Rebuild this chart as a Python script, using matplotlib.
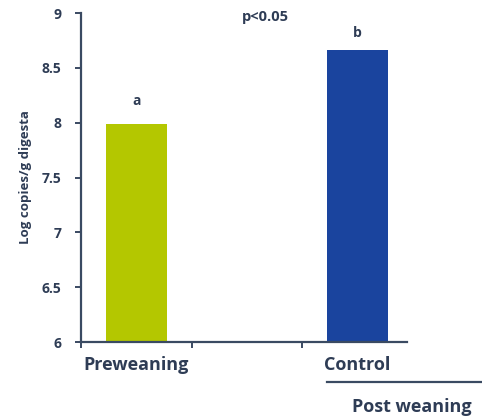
import matplotlib
matplotlib.use("Agg")
import matplotlib.pyplot as plt

plt.rcParams['font.family'] = ['Open Sans', 'DejaVu Sans']
plt.rcParams['font.weight'] = 'bold'

# data
groups = ['Preweaning', 'Control']
values = [7.99, 8.66]
letters = ['a', 'b']
letter_offsets = [0.21, 0.16]
positions = [0.5, 2.5]
colors = ['#b4c700', '#1a449e']
yticks = [6, 6.5, 7, 7.5, 8, 8.5, 9]
ytick_labels = ['6', '6.5', '7', '7.5', '8', '8.5', '9']

axis_col = '#3a4a62'
text_col = '#2e3c55'

fig = plt.figure(figsize=(4.82, 4.18), dpi=100)
ax = fig.add_axes([81/482, 76/418, 326/482, 329/418])

ax.bar(positions, [v - 6 for v in values], bottom=6, width=0.55, color=colors)

ax.set_xlim(0, 2.95)
ax.set_ylim(6, 9)

for s in ['top', 'right']:
    ax.spines[s].set_visible(False)
for s in ['left', 'bottom']:
    ax.spines[s].set_color(axis_col)
    ax.spines[s].set_linewidth(1.6)

ax.set_yticks(yticks)
ax.set_yticklabels(ytick_labels, fontweight='bold')
ax.tick_params(axis='y', direction='out', length=4, width=1.4, color=axis_col,
               labelcolor=text_col, labelsize=10, pad=10)

ax.set_xticks([0, 1, 2])
ax.set_xticklabels(['', '', ''])
ax.set_xticks(positions, minor=True)
ax.set_xticklabels(groups, minor=True, fontweight='bold')
ax.tick_params(axis='x', which='major', direction='out', length=4, width=1.4, color=axis_col)
ax.tick_params(axis='x', which='minor', length=0, pad=10, labelsize=13, labelcolor=text_col)

ax.set_ylabel('Log copies/g digesta', fontsize=9.5, color=text_col, fontweight='bold')
ax.yaxis.set_label_coords(-0.15, 0.5)

# significance letters
for x, v, off, l in zip(positions, values, letter_offsets, letters):
    ax.text(x, v + off, l, ha='center', va='center', fontsize=10, color=text_col,
            fontweight='bold')
ax.text(1.67, 8.96, 'p<0.05', ha='center', va='center', fontsize=10.5, color=text_col,
        fontweight='bold')

# group bracket
trans = ax.get_xaxis_transform()
ax.plot([2.225, 3.9], [-0.122, -0.122], transform=trans, color=axis_col, lw=1.6, clip_on=False)
ax.text(2.99, -0.198, 'Post weaning', transform=trans, ha='center', va='center',
        fontsize=13, color=text_col, fontweight='bold')

fig.savefig('out.png', dpi=100)
